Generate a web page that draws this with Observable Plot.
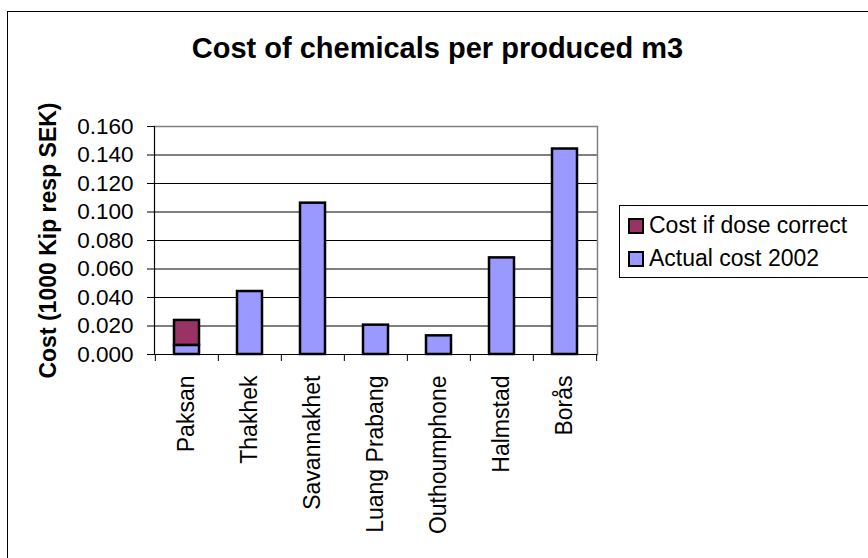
<!DOCTYPE html>
<html>
<head>
<meta charset="utf-8">
<script src="https://cdn.jsdelivr.net/npm/d3@7"></script>
<script src="https://cdn.jsdelivr.net/npm/@observablehq/plot@0.6"></script>
<style>
  html, body { margin: 0; padding: 0; background: #fff; }
  #chart { position: relative; width: 868px; height: 558px; overflow: hidden; background: #fff;
           font-family: "Liberation Sans", Arial, sans-serif; color: #000; }
  #border { position: absolute; left: 7px; top: 11px; width: 900px; height: 600px;
            border-left: 1px solid #000; border-top: 1px solid #000; }
  #title { position: absolute; left: 7px; width: 861px; top: 33.5px; text-align: center;
           font-size: 29px; line-height: 29px; font-weight: bold; white-space: nowrap; }
  #plot { position: absolute; left: 0; top: 0; }
  #legend { position: absolute; left: 619px; top: 205px; width: 260px; height: 71px;
            border: 1px solid #000; background: #fff; }
  .item { position: absolute; left: 8px; font-size: 23px; line-height: 23px; white-space: nowrap; }
  .sw { position: absolute; left: 0; width: 12px; height: 12px; border: 2px solid #000; }
  .item span.t { position: absolute; left: 21px; top: 0; }
</style>
</head>
<body>
<div id="chart">
  <div id="border"></div>
  <div id="title"></div>
  <div id="plot"></div>
  <div id="legend"></div>
</div>
<script>
const title = "Cost of chemicals per produced m3";
const yLabel = "Cost (1000 Kip resp SEK)";
const cities = ["Paksan", "Thakhek", "Savannakhet", "Luang Prabang", "Outhoumphone", "Halmstad", "Borås"];
const seriesNames = ["Actual cost 2002", "Cost if dose correct"];
const seriesColors = ["#9999FF", "#993366"];
const actualCost = [0.0064, 0.0442, 0.1062, 0.0206, 0.0131, 0.0678, 0.1442];
const doseCorrectExtra = [0.0175, null, null, null, null, null, null];
const yTicks = [0, 0.02, 0.04, 0.06, 0.08, 0.1, 0.12, 0.14, 0.16];
const gridTicks = [0.02, 0.04, 0.06, 0.08, 0.1, 0.12, 0.14];

const rows = [];
cities.forEach((c, i) => {
  rows.push({city: c, series: seriesNames[0], value: actualCost[i]});
  if (doseCorrectExtra[i] != null) rows.push({city: c, series: seriesNames[1], value: doseCorrectExtra[i]});
});

const W = 868, H = 558;
const mL = 154, mR = 271, mT = 126, mB = 204;
const step = (W - mL - mR) / cities.length;

document.getElementById("title").textContent = title;

const plot = Plot.plot({
  width: W, height: H,
  marginLeft: mL, marginRight: mR, marginTop: mT, marginBottom: mB,
  style: {fontFamily: "'Liberation Sans', Arial, sans-serif", color: "#000", background: "transparent", overflow: "visible"},
  x: {domain: cities, paddingInner: 0.6, paddingOuter: 0.3, axis: null},
  y: {domain: [0, 0.16], axis: null},
  color: {domain: seriesNames, range: seriesColors},
  marks: [
    Plot.ruleY(gridTicks, {stroke: "#000", strokeWidth: 1}),
    Plot.ruleY([0.16], {stroke: "#808080", strokeWidth: 1.5}),
    Plot.frame({anchor: "right", stroke: "#808080", strokeWidth: 1.5}),
    Plot.barY(rows, Plot.stackY({x: "city", y: "value", fill: "series", stroke: "#000", strokeWidth: 2.5})),
    Plot.frame({anchor: "left", stroke: "#000", strokeWidth: 1.2}),
    Plot.ruleY([0], {stroke: "#000", strokeWidth: 1.2}),
    Plot.axisY({ticks: yTicks, tickSize: 7, tickPadding: 14, fontSize: 22.5, tickFormat: d3.format(".3f"), label: null, stroke: "#000"}),
    Plot.axisX({ticks: cities, tickSize: 7, tickFormat: () => "", dx: -step / 2, label: null}),
    Plot.axisX({ticks: [cities[cities.length - 1]], tickSize: 7, tickFormat: () => "", dx: step / 2, label: null}),
    Plot.text(cities, {x: d => d, frameAnchor: "bottom", rotate: -90, textAnchor: "end", lineAnchor: "middle", dy: 21, fontSize: 23, fill: "#000"}),
    Plot.text([yLabel], {frameAnchor: "left", dx: -106, rotate: -90, textAnchor: "middle", lineAnchor: "middle", fontSize: 23, fontWeight: "bold", fill: "#000"})
  ]
});
document.getElementById("plot").appendChild(plot);

// legend (listed in reverse stacking order, as in the original)
const legend = document.getElementById("legend");
[1, 0].forEach((si, k) => {
  const item = document.createElement("div");
  item.className = "item";
  item.style.top = (7.5 + k * 33) + "px";
  const sw = document.createElement("div");
  sw.className = "sw";
  sw.style.background = seriesColors[si];
  sw.style.top = "4px";
  const t = document.createElement("span");
  t.className = "t";
  t.textContent = seriesNames[si];
  item.appendChild(sw);
  item.appendChild(t);
  legend.appendChild(item);
});
</script>
</body>
</html>
